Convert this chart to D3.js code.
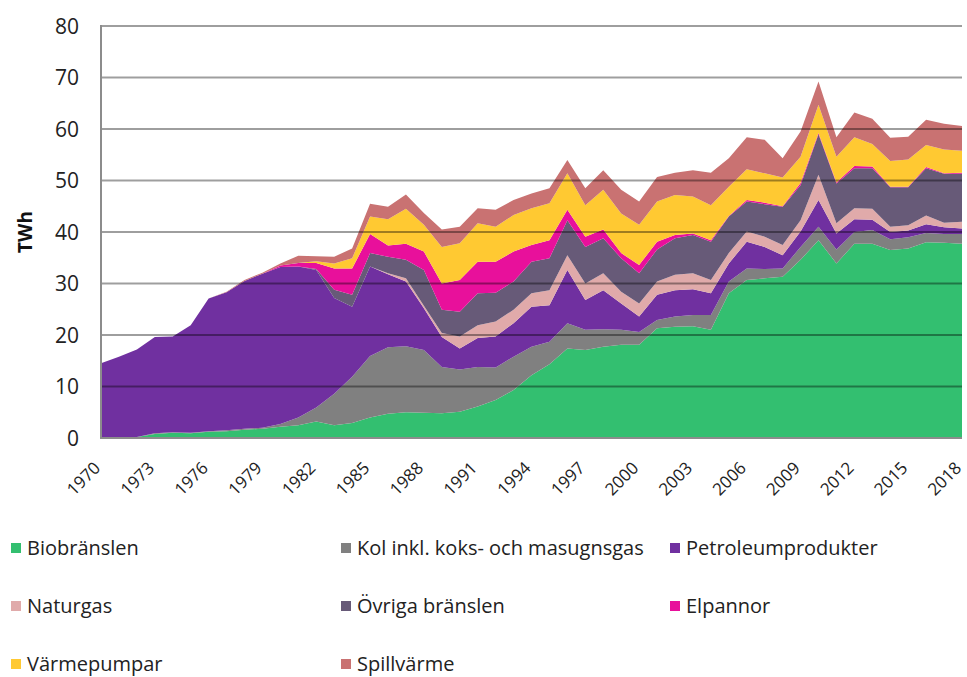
<!DOCTYPE html>
<html>
<head>
<meta charset="utf-8">
<script src="https://cdn.jsdelivr.net/npm/d3@7"></script>
<style>
  body { margin: 0; background: #fff; }
  svg { font-family: "Open Sans", Lato, sans-serif; }
</style>
</head>
<body>
<svg id="chart" width="967" height="677"></svg>
<script>
const years = d3.range(1970, 2019);

const biobranslen = [0, 0, 0.2, 0.8, 1.0, 0.9, 1.2, 1.3, 1.6, 1.8, 2.2, 2.5, 3.2, 2.5, 2.9, 4.0, 4.7, 5.0, 4.9, 4.8,
  5.1, 6.1, 7.4, 9.3, 12.2, 14.3, 17.4, 17.1, 17.7, 18.1, 18.1, 21.3, 21.6, 21.7, 21.0, 28.1, 30.7, 31.0, 31.3, 34.6,
  38.4, 33.9, 37.7, 37.7, 36.5, 36.8, 38.0, 37.9, 37.7];
const kol = [0, 0, 0, 0.1, 0.1, 0.1, 0.1, 0.2, 0.2, 0.2, 0.5, 1.5, 2.7, 6.1, 9.0, 11.9, 12.9, 12.8, 12.2, 9.0,
  8.2, 7.7, 6.3, 6.5, 5.5, 4.4, 4.9, 3.9, 3.4, 2.9, 2.5, 1.6, 2.0, 2.2, 2.9, 2.3, 2.2, 1.8, 1.6, 2.5,
  2.6, 2.7, 2.3, 2.7, 2.1, 2.2, 1.8, 1.7, 1.9];
const petroleum = [14.5, 15.8, 17.0, 18.7, 18.6, 20.9, 25.8, 26.8, 28.7, 29.9, 30.5, 29.3, 26.7, 18.6, 13.6, 17.4, 14.2, 12.6, 8.1, 5.8,
  4.1, 5.6, 6.0, 6.5, 7.8, 7.1, 10.3, 5.8, 7.6, 5.1, 3.0, 4.9, 5.1, 5.0, 4.2, 3.5, 5.2, 4.3, 2.6, 3.0,
  5.2, 3.1, 2.5, 2.0, 1.4, 1.3, 1.7, 1.3, 1.1];
const naturgas = [0, 0, 0, 0, 0, 0, 0, 0, 0, 0, 0, 0, 0, 0, 0, 0, 0.2, 0.6, 0.5, 0.8,
  2.3, 2.5, 2.9, 2.6, 2.6, 2.9, 2.9, 3.2, 3.3, 2.3, 2.5, 2.6, 3.0, 3.1, 2.6, 2.0, 2.0, 2.0, 2.0, 2.2,
  4.9, 2.0, 2.1, 2.1, 1.0, 1.0, 1.7, 0.9, 1.3];
const ovriga = [0, 0, 0, 0, 0, 0, 0, 0, 0, 0, 0, 0, 0.2, 1.6, 2.3, 2.6, 3.2, 3.6, 6.9, 4.5,
  4.8, 6.2, 5.6, 5.5, 6.1, 6.2, 6.8, 7.1, 6.8, 6.5, 5.9, 6.2, 7.1, 7.4, 7.4, 7.1, 5.8, 6.3, 7.4, 6.8,
  7.9, 7.7, 7.8, 7.9, 7.7, 7.4, 9.2, 9.5, 9.3];
const elpannor = [0, 0, 0, 0, 0, 0, 0, 0, 0, 0, 0.3, 0.7, 1.2, 4.1, 5.1, 3.7, 2.2, 3.1, 3.6, 5.1,
  6.2, 6.1, 6.0, 5.8, 3.3, 3.5, 2.0, 2.0, 1.7, 1.0, 1.6, 1.5, 0.6, 0.3, 0.3, 0.1, 0.3, 0.3, 0.1, 0.4,
  0.2, 0.2, 0.4, 0.3, 0.1, 0.1, 0.2, 0.1, 0.2];
const varmepumpar = [0, 0, 0, 0, 0, 0, 0, 0, 0, 0, 0, 0, 0.3, 1.0, 2.0, 3.4, 5.1, 6.8, 5.2, 7.1,
  7.1, 7.5, 6.8, 7.1, 7.1, 7.2, 7.1, 6.1, 7.7, 7.7, 7.8, 7.8, 7.8, 7.2, 6.8, 5.7, 6.0, 5.7, 5.6, 5.1,
  5.5, 5.0, 5.6, 4.4, 5.0, 5.3, 4.3, 4.6, 4.3];
const spillvarme = [0, 0, 0, 0, 0, 0, 0, 0.1, 0.2, 0.2, 0.4, 1.4, 1.0, 1.3, 1.9, 2.5, 2.4, 2.8, 2.3, 3.4,
  3.2, 2.9, 3.3, 2.9, 2.9, 2.9, 2.6, 3.3, 3.8, 4.6, 4.5, 4.8, 4.3, 5.1, 6.3, 5.5, 6.2, 6.5, 3.7, 4.9,
  4.5, 3.8, 4.8, 4.9, 4.5, 4.4, 4.9, 5.0, 4.8];

const seriesNames = ["Biobränslen", "Kol inkl. koks- och masugnsgas", "Petroleumprodukter", "Naturgas",
  "Övriga bränslen", "Elpannor", "Värmepumpar", "Spillvärme"];
const seriesValues = [biobranslen, kol, petroleum, naturgas, ovriga, elpannor, varmepumpar, spillvarme];
const colors = ["#33bf70", "#808080", "#7030a0", "#e0aaaa", "#675a78", "#e8109b", "#ffc932", "#c97272"];

const yTicks = [0, 10, 20, 30, 40, 50, 60, 70, 80];
const xTickYears = d3.range(1970, 2019, 3);

const rows = years.map((yr, i) => {
  const r = { year: yr };
  seriesNames.forEach((name, k) => { r[name] = seriesValues[k][i]; });
  return r;
});

const svg = d3.select("#chart");
const plotLeft = 101, plotRight = 962, plotTop = 26, plotBottom = 438;

const x = d3.scaleLinear().domain([1970, 2018]).range([plotLeft, plotRight]);
const y = d3.scaleLinear().domain([0, 80]).range([plotBottom, plotTop]);

const stacked = d3.stack().keys(seriesNames)(rows);

const area = d3.area()
  .x(d => x(d.data.year))
  .y0(d => y(d[0]))
  .y1(d => y(d[1]));

svg.append("g")
  .selectAll("path")
  .data(stacked)
  .enter().append("path")
  .attr("d", area)
  .attr("fill", (d, i) => colors[i]);

// gridlines drawn over the areas, as in the original
svg.append("g")
  .selectAll("line")
  .data(yTicks.filter(t => t > 0))
  .enter().append("line")
  .attr("x1", plotLeft).attr("x2", plotRight)
  .attr("y1", d => y(d)).attr("y2", d => y(d))
  .attr("stroke", "rgba(0,0,0,0.38)")
  .attr("stroke-width", 2);

// axis lines
svg.append("line")
  .attr("x1", plotLeft).attr("x2", plotRight)
  .attr("y1", plotBottom).attr("y2", plotBottom)
  .attr("stroke", "#8c8c8c").attr("stroke-width", 2);
svg.append("line")
  .attr("x1", plotLeft).attr("x2", plotLeft)
  .attr("y1", plotTop - 1).attr("y2", plotBottom + 1)
  .attr("stroke", "#8c8c8c").attr("stroke-width", 2);

// y tick labels
svg.append("g")
  .selectAll("text")
  .data(yTicks)
  .enter().append("text")
  .attr("x", 79)
  .attr("y", d => y(d))
  .attr("dy", "0.36em")
  .attr("text-anchor", "end")
  .attr("font-size", 21)
  .attr("fill", "#222")
  .text(d => d);

// x tick labels, rotated
svg.append("g")
  .selectAll("text")
  .data(xTickYears)
  .enter().append("text")
  .attr("transform", d => `translate(${x(d) + 0.5},${plotBottom + 31}) rotate(-45)`)
  .attr("text-anchor", "end")
  .attr("font-size", 17)
  .attr("fill", "#222")
  .text(d => d);

// y axis title
svg.append("text")
  .attr("transform", `translate(32,${(plotTop + plotBottom) / 2}) rotate(-90)`)
  .attr("text-anchor", "middle")
  .attr("font-size", 19)
  .attr("font-weight", "bold")
  .attr("fill", "#111")
  .text("TWh");

// legend
const legendCols = [11, 341, 670];
const legendRows = [548, 606, 664];
const legend = svg.append("g")
  .selectAll("g")
  .data(seriesNames)
  .enter().append("g")
  .attr("transform", (d, i) => `translate(${legendCols[i % 3]},${legendRows[Math.floor(i / 3)]})`);

legend.append("rect")
  .attr("x", 0).attr("y", -5)
  .attr("width", 10).attr("height", 10)
  .attr("fill", (d, i) => colors[i]);

legend.append("text")
  .attr("x", 16)
  .attr("dy", "0.36em")
  .attr("font-size", 20)
  .attr("fill", "#222")
  .text(d => d);
</script>
</body>
</html>
